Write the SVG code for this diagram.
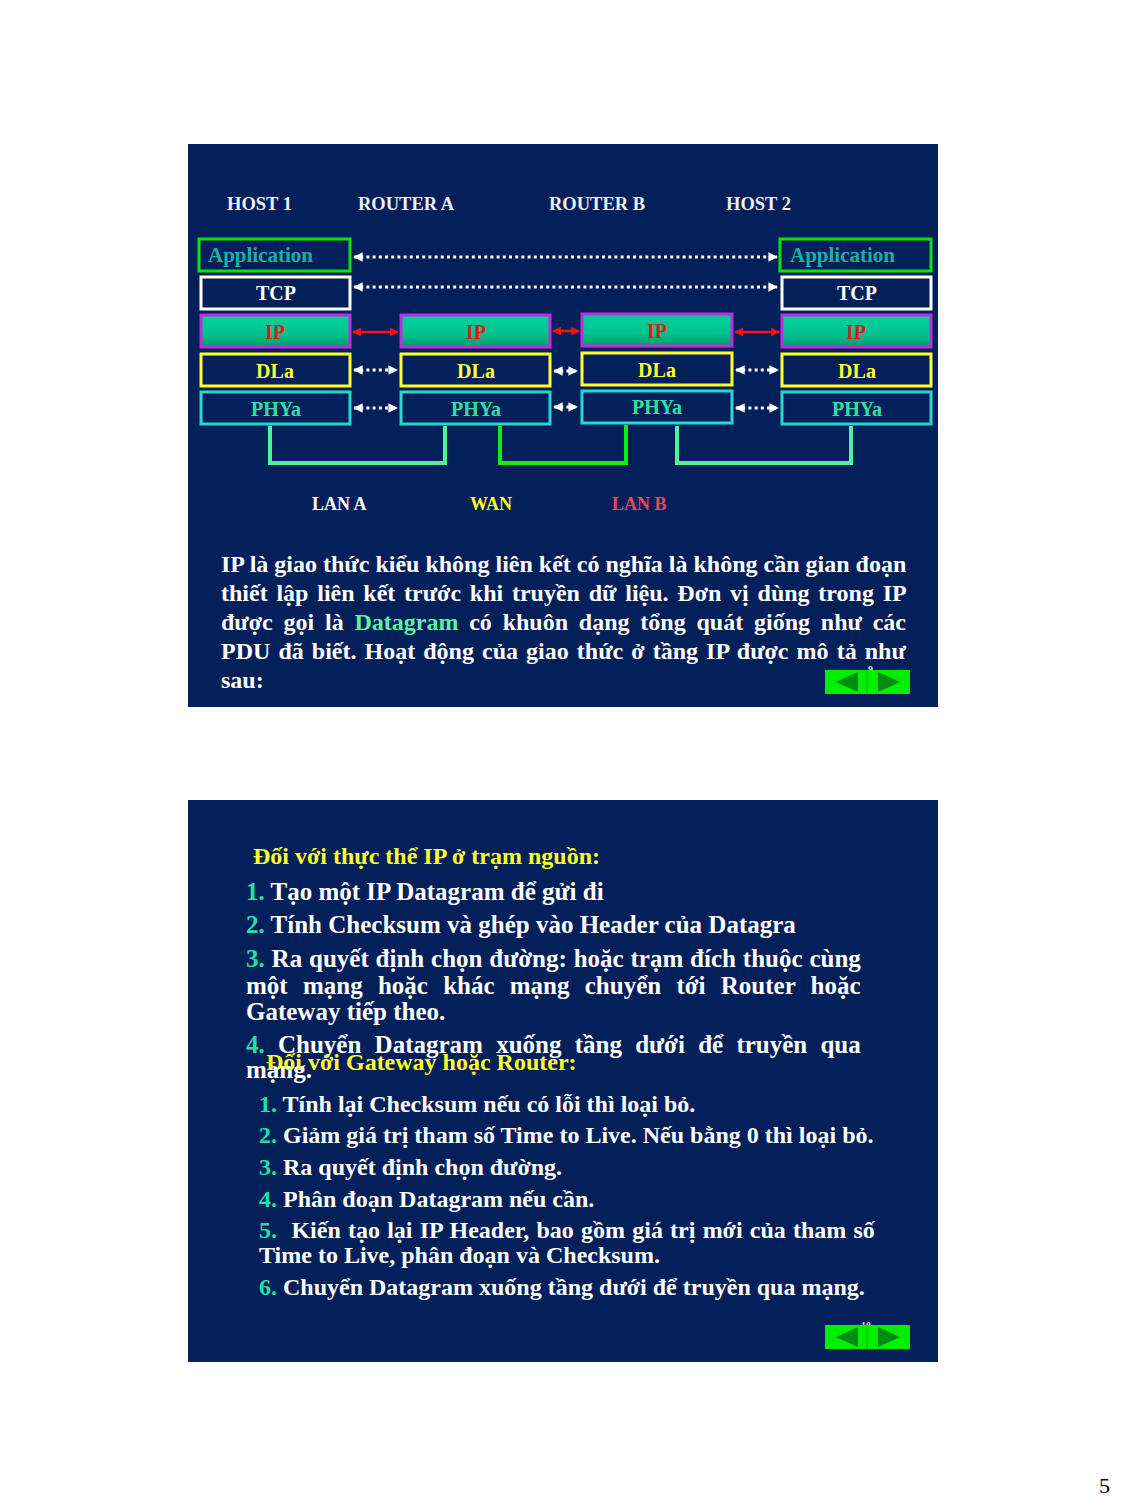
<svg xmlns="http://www.w3.org/2000/svg" width="1124" height="1505" viewBox="0 0 1124 1505">
<defs>
<linearGradient id="ipg" x1="0" y1="0" x2="0" y2="1">
<stop offset="0" stop-color="#00d29c"/>
<stop offset="0.6" stop-color="#00c38f"/>
<stop offset="1" stop-color="#009a6c"/>
</linearGradient>
<marker id="wh" viewBox="0 0 10 10" refX="9" refY="5" markerWidth="3.2" markerHeight="3.2" orient="auto-start-reverse" markerUnits="strokeWidth">
<path d="M0,0 L10,5 L0,10 Z" fill="#ffffff"/>
</marker>
<marker id="rh" viewBox="0 0 10 10" refX="9" refY="5" markerWidth="3.5" markerHeight="3.5" orient="auto-start-reverse" markerUnits="strokeWidth">
<path d="M0,0 L10,5 L0,10 Z" fill="#ff1010"/>
</marker>
</defs>
<style>
.bg{fill:#03205a}
.f{font-family:"Liberation Serif","Times New Roman",serif;font-weight:bold}
.hd{font-size:18.5px;fill:#eef0f6}
.lbl{font-size:20px;text-anchor:middle}
.box{fill:#03205a;stroke-width:3}
.app{stroke:#10e010}
.tcp{stroke:#ffffff}
.ip{fill:url(#ipg);stroke:#c02ce0;stroke-width:3}
.dl{stroke:#ffff30}
.ph{stroke:#28d8d0}
.dot{stroke:#ffffff;stroke-width:3;stroke-dasharray:3 3.2;fill:none}
.red{stroke:#ff1010;stroke-width:2.5;fill:none}
.lan{stroke:#50f0a0;stroke-width:4;fill:none}
.wan{stroke:#10ee10;stroke-width:4;fill:none}
.p0{font-size:24px;fill:#ffffff}
.p{font-size:25px;fill:#ffffff}
.p2{font-size:24px;fill:#ffffff}
.y{fill:#ffff30;font-size:24px}
.n{fill:#20e0a8}
.nav{fill:#00ee00}
.tri{fill:#008c10}
</style>
<rect x="0" y="0" width="1124" height="1505" fill="#ffffff"/>

<!-- Slide 1 -->
<g id="slide1">
<rect class="bg" x="188" y="144" width="750" height="563"/>
<g id="headers" class="f hd">
<text x="227" y="210">HOST 1</text>
<text x="358" y="210">ROUTER A</text>
<text x="549" y="210">ROUTER B</text>
<text x="726" y="210">HOST 2</text>
</g>

<g id="host1">
<rect class="box app" x="199" y="239" width="151" height="32"/>
<text class="f" x="208" y="262" font-size="21" fill="#1cb0a0">Application</text>
<rect class="box tcp" x="201" y="277" width="149" height="32"/>
<text class="f lbl" x="276" y="300" fill="#ffffff">TCP</text>
<rect class="ip" x="201" y="315" width="149" height="32"/>
<text class="f lbl" x="275" y="339" fill="#e01818">IP</text>
<rect class="box dl" x="201" y="354" width="149" height="32"/>
<text class="f lbl" x="275" y="378" fill="#ffff30">DLa</text>
<rect class="box ph" x="201" y="392" width="149" height="32"/>
<text class="f lbl" x="276" y="416" fill="#30e0a0">PHYa</text>
</g>

<g id="routerA">
<rect class="ip" x="401" y="315" width="149" height="32"/>
<text class="f lbl" x="476" y="339" fill="#e01818">IP</text>
<rect class="box dl" x="401" y="354" width="149" height="32"/>
<text class="f lbl" x="476" y="378" fill="#ffff30">DLa</text>
<rect class="box ph" x="401" y="392" width="149" height="32"/>
<text class="f lbl" x="476" y="416" fill="#30e0a0">PHYa</text>
</g>

<g id="routerB">
<rect class="ip" x="582" y="314" width="150" height="32"/>
<text class="f lbl" x="657" y="338" fill="#e01818">IP</text>
<rect class="box dl" x="582" y="353" width="150" height="32"/>
<text class="f lbl" x="657" y="377" fill="#ffff30">DLa</text>
<rect class="box ph" x="582" y="391" width="150" height="32"/>
<text class="f lbl" x="657" y="414" fill="#30e0a0">PHYa</text>
</g>

<g id="host2">
<rect class="box app" x="780" y="239" width="151" height="32"/>
<text class="f" x="790" y="262" font-size="21" fill="#1cb0a0">Application</text>
<rect class="box tcp" x="782" y="277" width="149" height="32"/>
<text class="f lbl" x="857" y="300" fill="#ffffff">TCP</text>
<rect class="ip" x="782" y="315" width="149" height="32"/>
<text class="f lbl" x="856" y="339" fill="#e01818">IP</text>
<rect class="box dl" x="782" y="354" width="149" height="32"/>
<text class="f lbl" x="857" y="378" fill="#ffff30">DLa</text>
<rect class="box ph" x="782" y="392" width="149" height="32"/>
<text class="f lbl" x="857" y="416" fill="#30e0a0">PHYa</text>
</g>

<g id="connectors">
<line class="dot" x1="354" y1="257" x2="777" y2="257" marker-start="url(#wh)" marker-end="url(#wh)"/>
<line class="dot" x1="354" y1="287" x2="777" y2="287" marker-start="url(#wh)" marker-end="url(#wh)"/>
<line class="red" x1="353" y1="332" x2="398" y2="332" marker-start="url(#rh)" marker-end="url(#rh)"/>
<line class="red" x1="553" y1="331" x2="579" y2="331" marker-start="url(#rh)" marker-end="url(#rh)"/>
<line class="red" x1="735" y1="332" x2="779" y2="332" marker-start="url(#rh)" marker-end="url(#rh)"/>
<line class="dot" x1="354" y1="370" x2="397" y2="370" marker-start="url(#wh)" marker-end="url(#wh)"/>
<line class="dot" x1="554" y1="371" x2="577" y2="371" stroke-width="2" marker-start="url(#wh)" marker-end="url(#wh)"/>
<line class="dot" x1="736" y1="370" x2="778" y2="370" marker-start="url(#wh)" marker-end="url(#wh)"/>
<line class="dot" x1="354" y1="408" x2="397" y2="408" marker-start="url(#wh)" marker-end="url(#wh)"/>
<line class="dot" x1="554" y1="407" x2="577" y2="407" stroke-width="2" marker-start="url(#wh)" marker-end="url(#wh)"/>
<line class="dot" x1="736" y1="408" x2="778" y2="408" marker-start="url(#wh)" marker-end="url(#wh)"/>
<polyline class="lan" points="270,426 270,463 445,463 445,426"/>
<polyline class="wan" points="500,426 500,463 626,463 626,425"/>
<polyline class="lan" points="677,426 677,463 851,463 851,426"/>
</g>

<g id="netlabels" class="f" font-size="18">
<text x="312" y="510" fill="#ffffff">LAN A</text>
<text x="470" y="510" fill="#ffff20">WAN</text>
<text x="612" y="510" fill="#e84858">LAN B</text>
</g>

<g id="para1" class="f p0">
<text x="221" y="572">IP là giao thức kiểu không liên kết có nghĩa là không cần gian đoạn</text>
<text x="221" y="601" word-spacing="2.77">thiết lập liên kết trước khi truyền dữ liệu. Đơn vị dùng trong IP</text>
<text x="221" y="630" word-spacing="4.8">được gọi là <tspan fill="#60f0a0">Datagram</tspan> có khuôn dạng tổng quát giống như các</text>
<text x="221" y="659" word-spacing="2.07">PDU đã biết. Hoạt động của giao thức ở tầng IP được mô tả như</text>
<text x="221" y="688">sau:</text>
</g>

<g id="nav1">
<text class="f" x="868" y="673" font-size="10" fill="#dddddd">9</text>
<rect class="nav" x="825" y="670" width="85" height="24"/>
<line x1="867" y1="670" x2="867" y2="694" stroke="#00c000" stroke-width="1"/>
<polygon class="tri" points="836,682 858,672 858,692"/>
<polygon class="tri" points="900,682 878,672 878,692"/>
</g>
</g>

<!-- Slide 2 -->
<g id="slide2">
<rect class="bg" x="188" y="800" width="750" height="562"/>
<g id="list1" class="f p">
<text class="y" x="253" y="864">Đối với thực thể IP ở trạm nguồn:</text>
<text x="246" y="900"><tspan class="n">1.</tspan> Tạo một IP Datagram để gửi đi</text>
<text x="246" y="933"><tspan class="n">2.</tspan> Tính Checksum và ghép vào Header của Datagra</text>
<text x="246" y="967" word-spacing="0.6"><tspan class="n">3.</tspan> Ra quyết định chọn đường: hoặc trạm đích thuộc cùng</text>
<text x="246" y="994" word-spacing="9">một mạng hoặc khác mạng chuyển tới Router hoặc</text>
<text x="246" y="1020">Gateway tiếp theo.</text>
<text x="246" y="1053" word-spacing="7"><tspan class="n">4.</tspan> Chuyển Datagram xuống tầng dưới để truyền qua</text>
<text x="246" y="1078">mạng.</text>
<text class="y" x="266" y="1070">Đối với Gateway hoặc Router:</text>
</g>
<g id="list2" class="f p2">
<text x="259" y="1112"><tspan class="n">1.</tspan> Tính lại Checksum nếu có lỗi thì loại bỏ.</text>
<text x="259" y="1143"><tspan class="n">2.</tspan> Giảm giá trị tham số Time to Live. Nếu bằng 0 thì loại bỏ.</text>
<text x="259" y="1175"><tspan class="n">3.</tspan> Ra quyết định chọn đường.</text>
<text x="259" y="1207"><tspan class="n">4.</tspan> Phân đoạn Datagram nếu cần.</text>
<text x="259" y="1238" word-spacing="1.2" style="white-space:pre"><tspan class="n">5.</tspan>  Kiến tạo lại IP Header, bao gồm giá trị mới của tham số</text>
<text x="259" y="1263">Time to Live, phân đoạn và Checksum.</text>
<text x="259" y="1295"><tspan class="n">6.</tspan> Chuyển Datagram xuống tầng dưới để truyền qua mạng.</text>
</g>
<g id="nav2">
<text class="f" x="861" y="1329" font-size="10" fill="#dddddd">10</text>
<rect class="nav" x="825" y="1325" width="85" height="24"/>
<line x1="867" y1="1325" x2="867" y2="1349" stroke="#00c000" stroke-width="1"/>
<polygon class="tri" points="836,1337 858,1327 858,1347"/>
<polygon class="tri" points="900,1337 878,1327 878,1347"/>
</g>
</g>

<text x="1099" y="1493" font-family="Liberation Serif,serif" font-size="22" fill="#000000">5</text>
</svg>
